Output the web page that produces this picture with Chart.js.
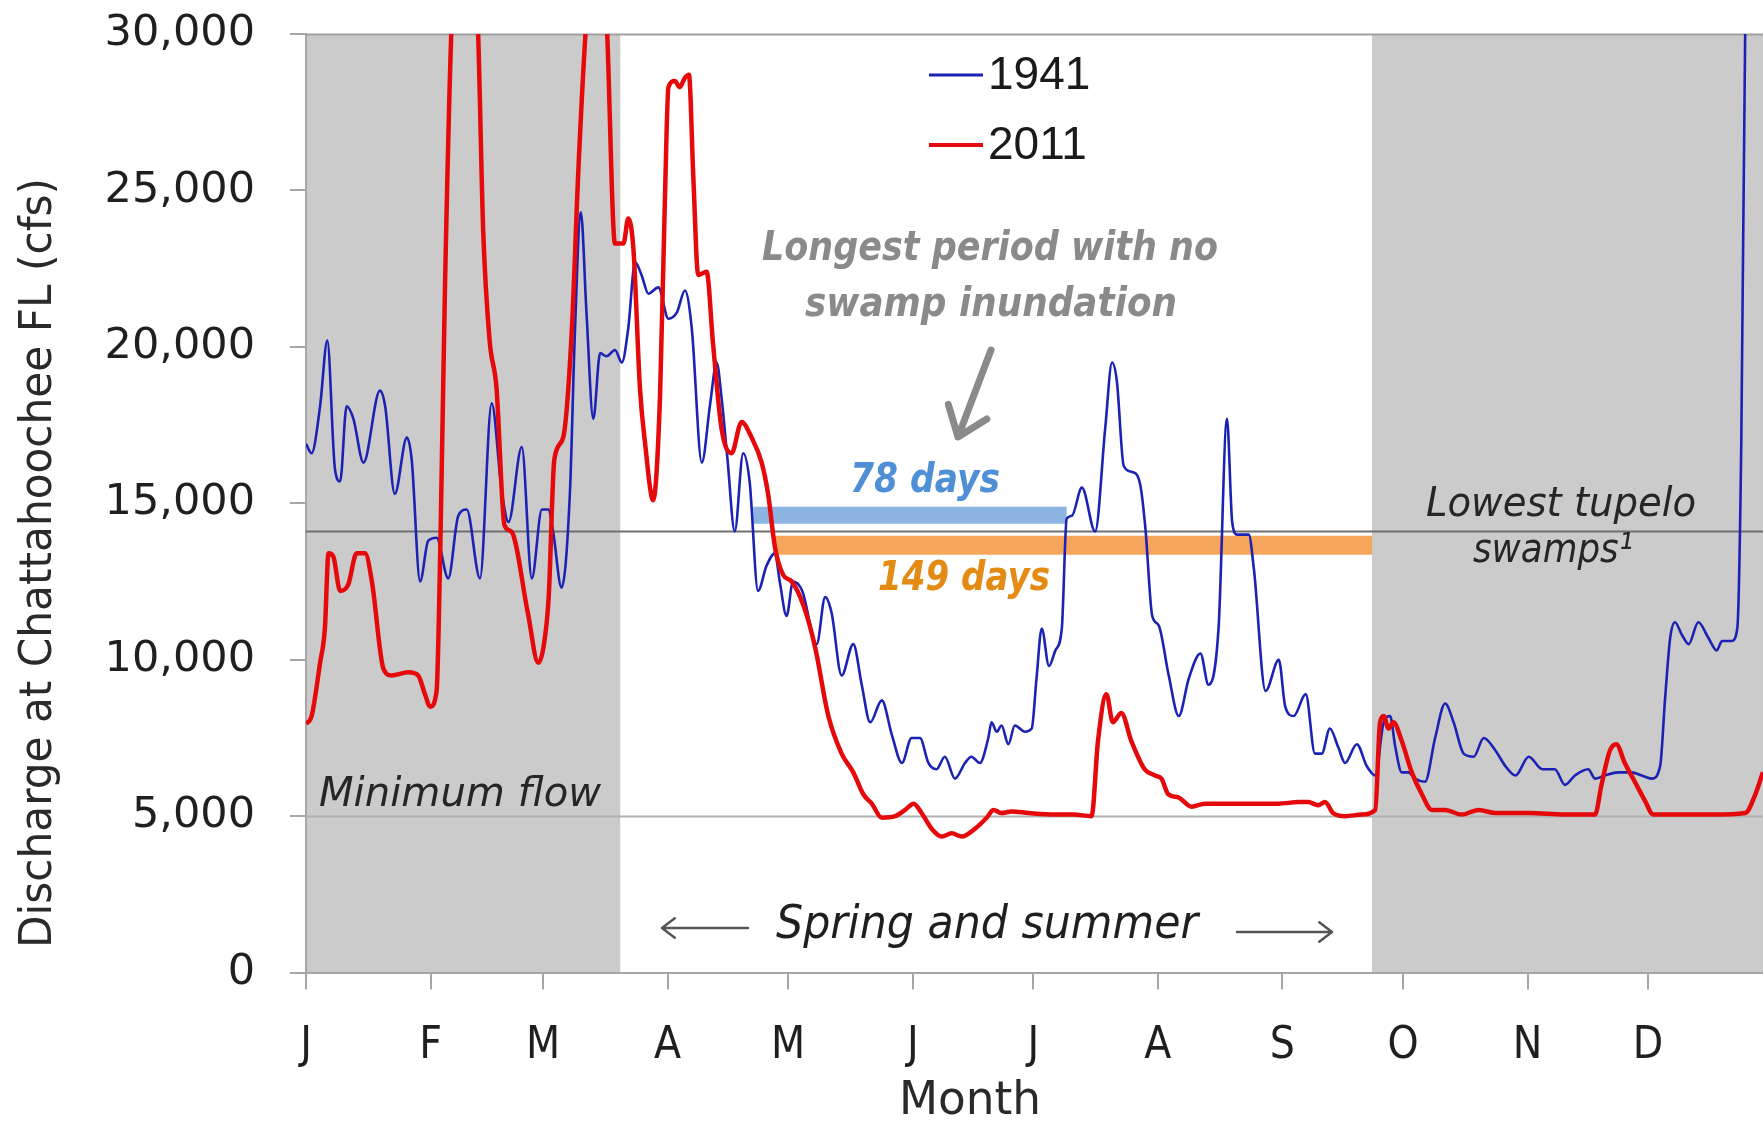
<!DOCTYPE html>
<html>
<head>
<meta charset="utf-8">
<title>Discharge at Chattahoochee FL, 1941 and 2011</title>
<script src="https://cdn.jsdelivr.net/npm/chart.js@4.4.1/dist/chart.umd.min.js"></script>
<style>
  html, body { margin: 0; padding: 0; background: #fff; }
  #flowChart { display: block; }
</style>
</head>
<body>
<canvas id="flowChart" width="1763" height="1124"></canvas>
<script>
// daily discharge readings (day of year, cfs)
const days1941 = [0, 1.4, 3.5, 5.3, 7.2, 8.5, 10.1, 11.8, 14.3, 18.4, 19.7, 22.1, 25.1, 26.3, 28.4, 30.4, 32.5, 35.4, 37.9, 40,
  43.3, 46.2, 48.7, 50.4, 53.7, 56.2, 58.7, 60.3, 61.5, 63.6, 65.7, 66.9, 68.4, 69.8, 71.5, 73.2, 74.8, 76.9, 78.6, 80.2,
  81.9, 83.5, 85.2, 87.7, 90.2, 92.3, 94.3, 96, 98.5, 100.6, 102.2, 103.4, 104.9, 106.7, 108.8, 110.4, 112.5, 114.6, 116.7, 117.9,
  119.6, 121.2, 123.5, 127.1, 129.2, 130.8, 133.3, 136.2, 138.3, 140.4, 143.3, 145.8, 148.3, 150.7, 152.8, 154.9, 156.9, 159, 161.5, 164,
  165.6, 167.7, 169.8, 170.6, 171.9, 173.1, 174.8, 176.4, 178.9, 180.6, 181.8, 183.1, 184.9, 186.5, 188.1, 189.3, 190.6, 193.1, 196.4, 198.9,
  200.6, 201.8, 203.5, 205.6, 207.6, 208.9, 210.6, 212.2, 214.7, 217.2, 219.7, 222.6, 224.6, 227.1, 229.2, 230.5, 231.7, 234.6, 235.9, 238.8,
  242.1, 243.7, 245.8, 248.8, 251.1, 252.8, 254.8, 256.9, 258.6, 261.5, 264, 266.1, 268.2, 269.8, 271.1, 272.7, 274.4, 276, 278.5, 281,
  283.5, 285.6, 288.1, 290.6, 293.1, 296, 298.5, 301, 304.3, 307.7, 310.8, 313.3, 315.8, 319.1, 320.8, 323.2, 326.6, 329.9, 332.4, 334.9,
  337, 338.2, 339.5, 340.7, 342.4, 344.1, 346.5, 349, 351.1, 352.4, 354.8, 356.2, 357.2, 358.2, 360, 364];
const flow1941 = [16900, 16600, 18100, 20200, 16100, 15700, 18100, 17700, 16300, 18600, 18100, 15300, 17100, 16400, 12500, 13800, 13900, 12600, 14600, 14800,
  12600, 18200, 15400, 14400, 16800, 12600, 14800, 14800, 14100, 12300, 15400, 20400, 24300, 21100, 17700, 19800, 19700, 19900, 19500, 20600,
  22700, 22300, 21700, 21900, 20900, 21100, 21800, 20600, 16300, 18200, 19500, 18400, 16400, 14100, 16600, 15700, 12200, 13000, 13400, 12500,
  11400, 12500, 12200, 10500, 12000, 11500, 9500, 10500, 9200, 8000, 8700, 7600, 6700, 7500, 7500, 6700, 6500, 6900, 6200, 6700,
  6900, 6700, 7500, 8000, 7700, 7900, 7300, 7900, 7700, 7800, 9400, 11000, 9800, 10300, 11000, 14500, 14600, 15500, 14100, 17400,
  19500, 18900, 16200, 16000, 15600, 14200, 11400, 11100, 9500, 8200, 9400, 10200, 9200, 11000, 17700, 14400, 14000, 14000, 12900, 9000,
  10000, 8500, 8200, 8900, 7000, 7000, 7800, 7200, 6700, 7300, 6600, 6300, 8000, 8200, 7200, 6400, 6400, 6200, 6100, 7500,
  8600, 8000, 7000, 6900, 7500, 7100, 6600, 6300, 6900, 6500, 6500, 6000, 6300, 6500, 6200, 6300, 6400, 6400, 6300, 6200,
  6600, 8700, 10700, 11200, 10800, 10500, 11200, 10700, 10300, 10600, 10600, 11000, 17000, 30500, 36000, 36000];

const days2011 = [0, 1.4, 3.5, 4.7, 5.6, 6.8, 8.5, 10.5, 12.6, 14.7, 16.4, 19.3, 21.3, 25.5, 27.9, 29.6, 30.9, 32.5, 33.4, 34.6,
  36.3, 39, 42.7, 44.1, 45.7, 47.4, 49.4, 51.1, 55.2, 57.8, 59.1, 60.4, 61.8, 64, 66.1, 67.8, 69.8, 72.3, 74.8, 76.9,
  79, 80.2, 81.5, 83.1, 84.4, 86.4, 88.1, 89.3, 90.2, 91.8, 93, 94.3, 95.3, 96.4, 97.6, 99.7, 101.3, 103.4, 105.9, 108.4,
  110.9, 113.4, 115, 116.7, 118.8, 120.9, 123.9, 126.7, 130, 133.3, 136.2, 138.7, 140.8, 143.3, 146.6, 149.1, 151.2, 153.2, 155.7, 158.2,
  160.7, 163.2, 166.5, 169.4, 171.1, 173.1, 175.6, 179.8, 186.4, 191, 195.5, 197.1, 199.2, 200.8, 202.9, 205.4, 208.7, 211.3, 212.9, 214.6,
  217.1, 220.4, 223.7, 230.4, 237, 242, 247, 249.4, 251.9, 253.6, 255.6, 258.6, 262.7, 266.1, 267.3, 268.2, 269.4, 270.6, 272.7, 275.2,
  277.7, 280.2, 283.5, 287.6, 291.8, 296, 304.3, 313.3, 320.8, 322.4, 324.5, 326.1, 328.2, 330.7, 333.2, 335.3, 341.5, 349.8, 358.2, 360.7,
  362.6, 364];
const flow2011 = [7950, 8200, 9900, 11000, 13400, 13300, 12200, 12400, 13400, 13400, 12500, 9700, 9500, 9600, 9500, 8900, 8500, 9000, 13400, 22000,
  30500, 34000, 30500, 23700, 20200, 18700, 14300, 14100, 11500, 9900, 10400, 12000, 16400, 17100, 20400, 25700, 30500, 34000, 30500, 23300,
  23300, 24100, 23100, 18700, 16900, 15100, 18400, 24600, 28300, 28500, 28300, 28600, 28700, 25400, 22300, 22400, 20100, 17400, 16600, 17600,
  17100, 16300, 15300, 13600, 12700, 12500, 11700, 10400, 8200, 7000, 6400, 5700, 5400, 4950, 5000, 5200, 5400, 5100, 4600, 4350,
  4450, 4350, 4600, 4950, 5200, 5100, 5150, 5100, 5050, 5050, 5000, 7400, 8900, 8000, 8300, 7400, 6500, 6300, 6200, 5700,
  5600, 5300, 5400, 5400, 5400, 5400, 5450, 5450, 5350, 5450, 5100, 5000, 5050, 5200, 8000, 8200, 7800, 8000, 7400, 6400,
  5700, 5200, 5200, 5050, 5200, 5100, 5100, 5050, 5050, 6000, 7100, 7300, 6700, 6100, 5500, 5050, 5050, 5050, 5100, 5700,
  6400, 6800];

const monthStarts = [0, 31, 59, 90, 120, 151, 181, 212, 243, 273, 304, 334];
const monthLabels = ['J', 'F', 'M', 'A', 'M', 'J', 'J', 'A', 'S', 'O', 'N', 'D'];
const yTicks = [0, 5000, 10000, 15000, 20000, 25000, 30000];

// winter half of the year (before spring equinox, after autumn equinox)
const offSeason = [[0, 78.2], [265.3, 366]];
const minimumFlow = 5000;
const tupeloLevel = 14100;

// longest runs with no swamp inundation
const dryStart = [111.3, 116.3];
const dryDays = [78, 149];
const dryLevel = [14620, 13660];

const BLUE = '#1b22b4';
const RED = '#e5090b';
const condensed = '"Liberation Sans Narrow", "DejaVu Sans Condensed", Roboto, sans-serif';

const toPoints = (xs, ys) => xs.map((d, i) => ({ x: d, y: ys[i] }));

// draw text squeezed/stretched to a given width
function fitText(ctx, str, cx, cy, width, font, color) {
  ctx.save();
  ctx.font = font;
  ctx.fillStyle = color;
  ctx.textAlign = 'center';
  ctx.textBaseline = 'middle';
  const w = ctx.measureText(str).width;
  ctx.translate(cx, cy);
  ctx.scale(width / w, 1);
  ctx.fillText(str, 0, 0);
  ctx.restore();
}

function arrow(ctx, x0, y0, x1, y1, head, width, color) {
  const ang = Math.atan2(y1 - y0, x1 - x0);
  ctx.save();
  ctx.strokeStyle = color;
  ctx.lineWidth = width;
  ctx.lineCap = 'round';
  ctx.lineJoin = 'round';
  ctx.beginPath();
  ctx.moveTo(x0, y0);
  ctx.lineTo(x1, y1);
  ctx.moveTo(x1 - head * Math.cos(ang - 0.65), y1 - head * Math.sin(ang - 0.65));
  ctx.lineTo(x1, y1);
  ctx.lineTo(x1 - head * Math.cos(ang + 0.65), y1 - head * Math.sin(ang + 0.65));
  ctx.stroke();
  ctx.restore();
}

const backdrop = {
  id: 'backdrop',
  beforeDraw(chart) {
    const { ctx, chartArea: a, scales: { x } } = chart;
    ctx.save();
    ctx.fillStyle = '#cbcbcb';
    offSeason.forEach(([d0, d1]) => {
      const x0 = Math.max(a.left, x.getPixelForValue(d0));
      const x1 = Math.min(a.right, x.getPixelForValue(d1));
      ctx.fillRect(x0, a.top, x1 - x0, a.bottom - a.top);
    });
    ctx.restore();
  },
  beforeDatasetsDraw(chart) {
    const { ctx, chartArea: a, scales: { y } } = chart;
    ctx.save();
    ctx.lineWidth = 2;
    const hline = (v, color) => {
      const py = Math.round(y.getPixelForValue(v)) + 0.5;
      ctx.strokeStyle = color;
      ctx.beginPath();
      ctx.moveTo(a.left, py);
      ctx.lineTo(a.right, py);
      ctx.stroke();
    };
    hline(y.max, '#a0a0a0');
    hline(minimumFlow, '#b0b0b0');
    hline(tupeloLevel, '#707070');
    ctx.restore();
  },
  afterDraw(chart) {
    const { ctx } = chart;
    const ds = chart.data.datasets;

    // legend
    [ds[0], ds[1]].forEach((d, i) => {
      const ly = 75 + i * 70;
      ctx.save();
      ctx.strokeStyle = d.borderColor;
      ctx.lineWidth = i === 0 ? 3 : 4;
      ctx.beginPath();
      ctx.moveTo(929, ly);
      ctx.lineTo(983, ly);
      ctx.stroke();
      ctx.fillStyle = '#1a1a1a';
      ctx.font = '46px "Liberation Sans", Arial, sans-serif';
      ctx.textBaseline = 'middle';
      ctx.fillText(d.label, 988, ly + 1);
      ctx.restore();
    });

    // axis titles
    ctx.save();
    ctx.translate(40, 563);
    ctx.rotate(-Math.PI / 2);
    fitText(ctx, 'Discharge at Chattahoochee FL (cfs)', 0, 0, 770, '44px ' + condensed, '#2a2a2a');
    ctx.restore();
    fitText(ctx, 'Month', 970, 1102, 142, '46px ' + condensed, '#2a2a2a');

    // notes
    const boldIt = 'italic bold 40px "DejaVu Sans", Verdana, sans-serif';
    const it = 'italic 40px "DejaVu Sans", Verdana, sans-serif';
    fitText(ctx, 'Longest period with no', 990, 250, 456, boldIt, '#8a8a8a');
    fitText(ctx, 'swamp inundation', 991, 306, 372, boldIt, '#8a8a8a');
    arrow(ctx, 991, 350, 958, 437, 34, 7, '#8a8a8a');
    fitText(ctx, dryDays[0] + ' days', 925, 482, 150, boldIt, '#4f8fd6');
    fitText(ctx, dryDays[1] + ' days', 964, 580, 172, boldIt, '#e38b12');
    fitText(ctx, 'Lowest tupelo', 1561, 506, 270, it, '#262626');
    fitText(ctx, 'swamps\u00b9', 1553, 552, 160, it, '#262626');
    fitText(ctx, 'Minimum flow', 460, 796, 282, it, '#262626');
    fitText(ctx, 'Spring and summer', 987, 926, 422, 'italic 47px ' + condensed, '#1f1f1f');
    arrow(ctx, 748, 928, 662, 928, 16, 2.5, '#555');
    arrow(ctx, 1237, 932, 1332, 932, 16, 2.5, '#555');
  }
};

new Chart(document.getElementById('flowChart'), {
  type: 'line',
  data: {
    datasets: [
      {
        label: '1941',
        data: toPoints(days1941, flow1941),
        borderColor: BLUE,
        borderWidth: 2.6,
        pointRadius: 0,
        cubicInterpolationMode: 'monotone',
        order: 1
      },
      {
        label: '2011',
        data: toPoints(days2011, flow2011),
        borderColor: RED,
        borderWidth: 4.5,
        pointRadius: 0,
        cubicInterpolationMode: 'monotone',
        order: 0
      },
      {
        label: 'dry 1941',
        data: [{ x: dryStart[0], y: dryLevel[0] }, { x: dryStart[0] + dryDays[0], y: dryLevel[0] }],
        borderColor: '#8db4e2',
        borderWidth: 17,
        pointRadius: 0,
        order: 3
      },
      {
        label: 'dry 2011',
        data: [{ x: dryStart[1], y: dryLevel[1] }, { x: dryStart[1] + dryDays[1], y: dryLevel[1] }],
        borderColor: '#f6a65c',
        borderWidth: 19,
        pointRadius: 0,
        order: 2
      }
    ]
  },
  options: {
    responsive: false,
    animation: false,
    devicePixelRatio: 1,
    layout: { padding: { top: 34, left: 0, right: 0, bottom: 0 } },
    plugins: { legend: { display: false }, tooltip: { enabled: false } },
    scales: {
      x: {
        type: 'linear',
        min: 0,
        max: 362.6,
        afterBuildTicks: axis => { axis.ticks = monthStarts.map(v => ({ value: v })); },
        afterFit: s => { s.height = 1124 - 972.6; },
        ticks: {
          autoSkip: false,
          maxRotation: 0,
          padding: 31,
          color: '#1f1f1f',
          font: { family: condensed, size: 44 },
          callback: (v, i) => monthLabels[i]
        },
        grid: { drawOnChartArea: false, tickLength: 17, color: '#a6a6a6', lineWidth: 2 },
        border: { color: '#a6a6a6', width: 2 }
      },
      y: {
        min: 0,
        max: 30000,
        afterBuildTicks: axis => { axis.ticks = yTicks.map(v => ({ value: v })); },
        afterFit: s => { s.width = 306; },
        ticks: {
          padding: 2,
          color: '#1f1f1f',
          font: { family: '"DejaVu Sans", Verdana, sans-serif', size: 43 },
          callback: v => v.toLocaleString('en-US')
        },
        // long tick slot keeps labels clear of the axis; only the 16px next to the axis is inked
        grid: { drawOnChartArea: false, tickLength: 49, tickBorderDash: [0, 33, 16, 200], color: '#a6a6a6', lineWidth: 2 },
        border: { color: '#a6a6a6', width: 2 }
      }
    }
  },
  plugins: [backdrop]
});
</script>
</body>
</html>
